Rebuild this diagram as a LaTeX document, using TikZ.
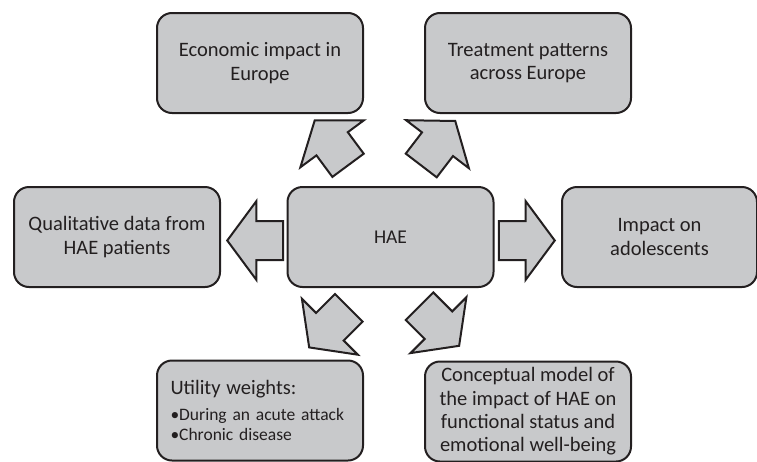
\documentclass[tikz,border=0pt]{standalone}
\usepackage{fontspec}
\setmainfont{Carlito}
\usetikzlibrary{shapes.arrows}
\definecolor{boxgray}{RGB}{200,201,203}
\definecolor{ink}{RGB}{35,31,32}
\begin{document}
\begin{tikzpicture}[x=1pt,y=-1pt,
    box/.style={draw=ink,fill=boxgray,line width=2pt,rounded corners=15pt,
      minimum width=206pt,minimum height=100pt,inner sep=0pt,align=center,
      text=ink,font=\fontsize{20.5}{23.3}\selectfont},
    blockarrow/.style={draw=ink,fill=boxgray,line width=2pt,single arrow,
      single arrow head extend=20pt,single arrow tip angle=107,
      minimum height=56pt,inner xsep=0pt,inner ysep=18.5pt,anchor=tip}]
        \clip (0,0) rectangle (757,461);
        \draw (260,63) node[box](econ){Economic impact in\\Europe};
        \draw (528,63) node[box](treat){Treatment patterns\\across Europe};
        \draw (117,237) node[box](qual){Qualitative data from\\HAE patients};
        \draw (390.5,237) node[box,font=\fontsize{19.5}{22}\selectfont](hae){HAE};
        \draw (659.5,237) node[box,minimum width=195pt](impact){Impact on\\adolescents};
        \draw (260,410.5) node[box,align=left,text width=179pt,
          font=\fontsize{17.5}{20}\selectfont](util){\mbox{\fontsize{20.5}{20}\selectfont Utility weights:}\\[6pt]
          \mbox{•During an acute attack}\\\mbox{•Chronic disease}\\[-4pt]};
        \draw (528,411.5) node[box](concept){Conceptual model of\\the impact of HAE on\\functional status and\\emotional well-being};
        % block arrows out of HAE
        \draw (226,240.5) node[blockarrow,rotate=180](a1){};
        \draw (556,240.5) node[blockarrow](a2){};
        \draw (314,119.3) node[blockarrow,rotate=126.5](a3){};
        \draw (456,120) node[blockarrow,rotate=52.6](a4){};
        \draw (308.3,348.3) node[blockarrow,rotate=225](a5){};
        \draw (460,346.7) node[blockarrow,rotate=-45](a6){};
\end{tikzpicture}
\end{document}
